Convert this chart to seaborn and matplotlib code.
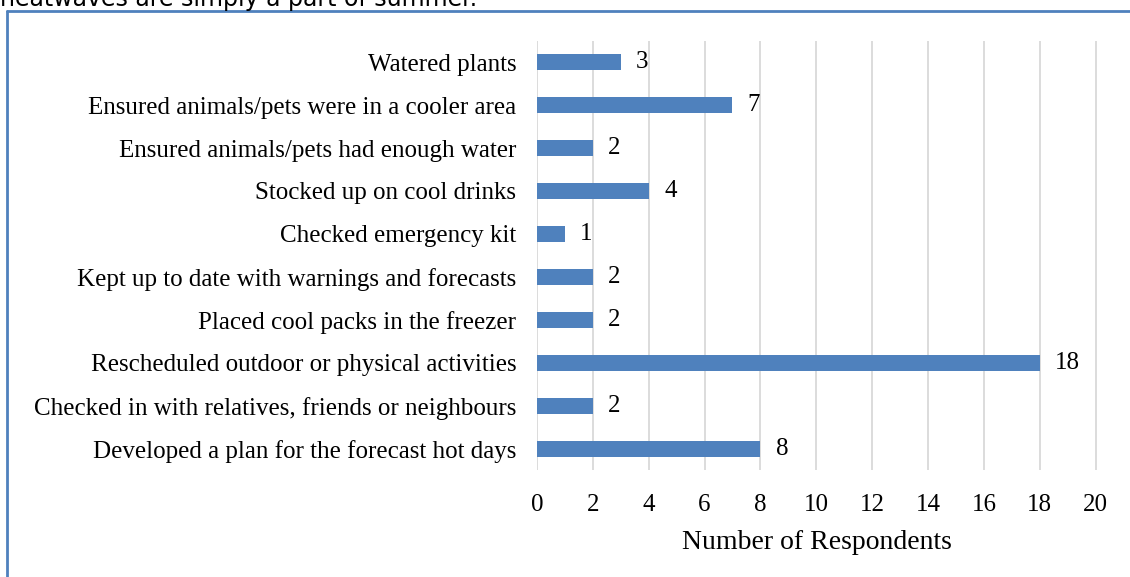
import matplotlib
matplotlib.use('Agg')
import matplotlib.pyplot as plt
import seaborn as sns
import pandas as pd

# survey answers, top to bottom as in the chart
actions = [
    'Watered plants',
    'Ensured animals/pets were in a cooler area',
    'Ensured animals/pets had enough water',
    'Stocked up on cool drinks',
    'Checked emergency kit',
    'Kept up to date with warnings and forecasts',
    'Placed cool packs in the freezer',
    'Rescheduled outdoor or physical activities',
    'Checked in with relatives, friends or neighbours',
    'Developed a plan for the forecast hot days',
]
respondents = [3, 7, 2, 4, 1, 2, 2, 18, 2, 8]
x_ticks = [0, 2, 4, 6, 8, 10, 12, 14, 16, 18, 20]

df = pd.DataFrame({'action': actions, 'count': respondents})

sns.set_style('white')
plt.rcParams['font.family'] = ['Liberation Serif', 'DejaVu Serif']

fig = plt.figure(figsize=(11.3, 5.77), dpi=100)
ax = fig.add_axes([0.4752, 0.1846, 0.4956, 0.7452])

sns.barplot(x='count', y='action', data=df, color='#4F81BD', width=0.36,
            saturation=1, linewidth=0, ax=ax, zorder=3)

# data labels to the right of each bar
for i, v in enumerate(respondents):
    ax.text(v + 0.55, i, str(v), va='center', ha='left', fontsize=18, color='#000000')

ax.set_xlim(0, 20.05)
ax.set_xticks(x_ticks)
ax.grid(axis='x', color='#D9D9D9', linewidth=1.3, zorder=0)
for s in ax.spines.values():
    s.set_visible(False)
ax.tick_params(axis='both', length=0, labelsize=18, colors='#000000')
ax.tick_params(axis='x', pad=17)
ax.tick_params(axis='y', pad=15)
ax.set_ylabel('')
ax.set_xlabel('Number of Respondents', fontsize=20, labelpad=10, color='#000000')

# surrounding frame and clipped caption text from the page
fig.add_artist(plt.Line2D([0.0062, 0.0062], [0, 0.981], color='#4F81BD', lw=2, transform=fig.transFigure))
fig.add_artist(plt.Line2D([0.0062, 1.0], [0.981, 0.981], color='#4F81BD', lw=2, transform=fig.transFigure))
fig.text(0.0, 0.9896, 'heatwaves are simply a part of summer.', fontsize=17,
         family=['DejaVu Sans'], va='baseline', ha='left', color='#000000')

plt.savefig('out.png', dpi=100)
plt.close()
